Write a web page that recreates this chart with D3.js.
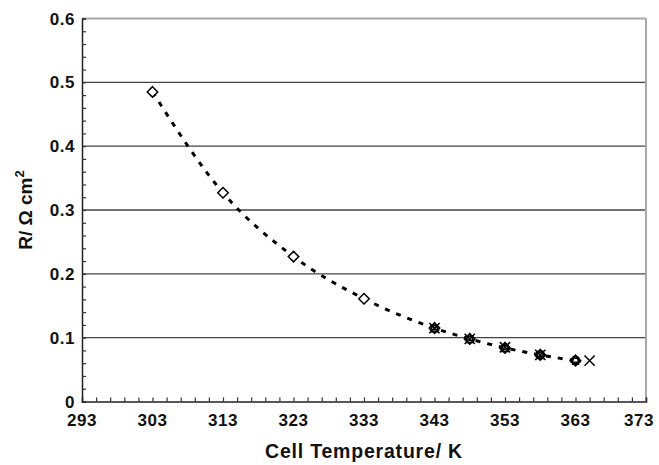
<!DOCTYPE html>
<html>
<head>
<meta charset="utf-8">
<script src="https://cdn.jsdelivr.net/npm/d3@7"></script>
<style>
  body { margin: 0; background: #fff; }
  svg { display: block; font-family: "Liberation Sans", Arial, sans-serif; }
</style>
</head>
<body>
<div id="chart"></div>
<script>
// cell temperature (K) and area resistance (ohm cm2)
const tempDiamond = [303, 313, 323, 333, 343, 348, 353, 358, 363];
const resDiamond  = [0.485, 0.327, 0.227, 0.161, 0.115, 0.098, 0.084, 0.073, 0.064];

const tempSquare = [343, 348, 353, 358, 363];
const resSquare  = [0.114, 0.097, 0.083, 0.072, 0.063];

const tempTriangle = [343, 348, 353, 358, 363];
const resTriangle  = [0.116, 0.099, 0.085, 0.074, 0.065];

const tempCross = [343, 348, 353, 358, 365];
const resCross  = [0.115, 0.098, 0.085, 0.073, 0.064];

const tempCircle = [353, 358, 363];
const resCircle  = [0.084, 0.074, 0.065];

// dashed fit drawn through the diamond series
const xTicks = [293, 303, 313, 323, 333, 343, 353, 363, 373];
const yTicks = [0, 0.1, 0.2, 0.3, 0.4, 0.5, 0.6];

const W = 659, H = 465;
const margin = { top: 18.5, right: 13, bottom: 63.5, left: 82 };
const iw = W - margin.left - margin.right;
const ih = H - margin.top - margin.bottom;

const svg = d3.select('#chart').append('svg')
    .attr('width', W)
    .attr('height', H);

const g = svg.append('g')
    .attr('transform', `translate(${margin.left},${margin.top})`);

const x = d3.scaleLinear().domain([293, 373]).range([0, iw]);
const y = d3.scaleLinear().domain([0, 0.6]).range([ih, 0]);

// horizontal gridlines
g.selectAll('line.grid')
    .data(yTicks.filter(v => v > 0 && v < 0.6))
    .enter().append('line')
    .attr('class', 'grid')
    .attr('x1', 0).attr('x2', iw)
    .attr('y1', d => y(d)).attr('y2', d => y(d))
    .style('stroke', '#444')
    .style('stroke-width', 1.4);

// top and right frame (gray)
g.append('line')
    .attr('x1', 0).attr('x2', iw).attr('y1', 0).attr('y2', 0)
    .style('stroke', '#a8a8a8').style('stroke-width', 2);
g.append('line')
    .attr('x1', iw).attr('x2', iw).attr('y1', 0).attr('y2', ih)
    .style('stroke', '#a8a8a8').style('stroke-width', 2);

// axes, ticks pointing inward
const xAxis = d3.axisBottom(x)
    .tickValues(d3.range(293, 374, 2))
    .tickSize(-4)
    .tickFormat('');
const yAxis = d3.axisLeft(y)
    .tickValues(d3.range(0, 0.601, 0.02))
    .tickSize(-4)
    .tickFormat('');

const gx = g.append('g').attr('transform', `translate(0,${ih})`).call(xAxis);
const gy = g.append('g').call(yAxis);
[gx, gy].forEach(a => {
    a.select('.domain').style('stroke', '#222').style('stroke-width', 1.5);
    a.selectAll('.tick line').style('stroke', '#333').style('stroke-width', 1.2);
});

// tick labels (last one nudged in so it stays on the page)
g.selectAll('text.xt')
    .data(xTicks)
    .enter().append('text')
    .attr('class', 'xt')
    .attr('x', d => Math.min(x(d), W - margin.left - 20))
    .attr('y', ih + 24)
    .attr('text-anchor', 'middle')
    .style('font-size', '17px')
    .style('letter-spacing', '0.5px')
    .style('font-weight', 'bold')
    .style('fill', '#111')
    .text(d => d);

g.selectAll('text.yt')
    .data(yTicks)
    .enter().append('text')
    .attr('class', 'yt')
    .attr('x', -7)
    .attr('y', d => y(d) + 6)
    .attr('text-anchor', 'end')
    .style('font-size', '17px')
    .style('letter-spacing', '0.5px')
    .style('font-weight', 'bold')
    .style('fill', '#111')
    .text(d => d === 0 ? '0' : d.toFixed(1));

// axis titles
svg.append('text')
    .attr('x', margin.left + iw / 2)
    .attr('y', 458)
    .attr('text-anchor', 'middle')
    .style('font-size', '19.5px')
    .style('letter-spacing', '0.8px')
    .style('font-weight', 'bold')
    .style('fill', '#111')
    .text('Cell Temperature/ K');

const yt = svg.append('text')
    .attr('transform', `translate(32,${margin.top + ih / 2}) rotate(-90)`)
    .attr('text-anchor', 'middle')
    .style('font-size', '19px')
    .style('font-weight', 'bold')
    .style('fill', '#111');
yt.append('tspan').text('R/ Ω cm');
yt.append('tspan').attr('dy', -8).style('font-size', '13px').text('2');

// dashed fit line
const fit = d3.line()
    .x((d, i) => x(tempDiamond[i]))
    .y(d => y(d))
    .curve(d3.curveMonotoneX);

g.append('path')
    .datum(resDiamond)
    .attr('d', fit)
    .style('fill', 'none')
    .style('stroke', '#000')
    .style('stroke-width', 3)
    .style('stroke-dasharray', '5,7');

// markers
const mk = g.append('g');
function addSeries(temps, vals, type, size) {
    const sym = d3.symbol().type(type).size(size);
    mk.selectAll(null)
        .data(vals)
        .enter().append('path')
        .attr('d', sym)
        .attr('transform', (d, i) => `translate(${x(temps[i])},${y(d)})`)
        .style('fill', type === d3.symbolX ? 'none' : '#fff')
        .style('fill-opacity', type === d3.symbolDiamond2 ? 1 : 0)
        .style('stroke', '#000')
        .style('stroke-width', 1.5);
}
addSeries(tempDiamond, resDiamond, d3.symbolDiamond2, 70);
addSeries(tempSquare, resSquare, d3.symbolSquare2, 45);
addSeries(tempTriangle, resTriangle, d3.symbolTriangle2, 45);
addSeries(tempCircle, resCircle, d3.symbolCircle, 45);
addSeries(tempCross, resCross, d3.symbolX, 70);
</script>
</body>
</html>
